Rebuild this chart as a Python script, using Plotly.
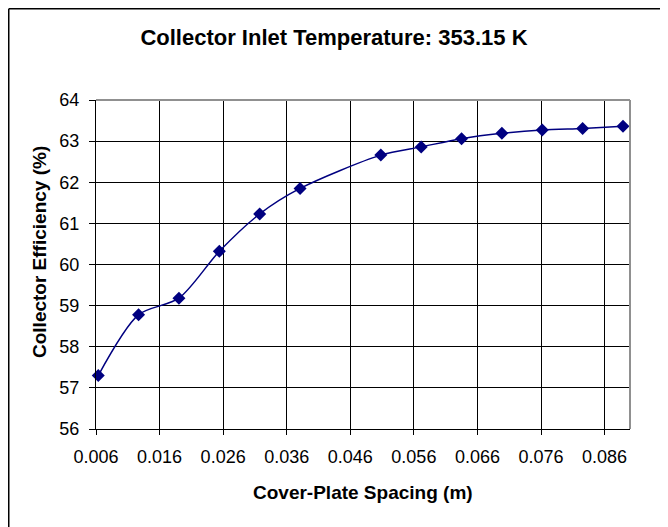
import plotly.graph_objects as go

spacing_m = [0.00635, 0.0127, 0.01905, 0.0254, 0.03175, 0.0381, 0.0508,
             0.05715, 0.0635, 0.06985, 0.0762, 0.08255, 0.0889]
efficiency_pct = [57.30, 58.78, 59.18, 60.32, 61.23, 61.85, 62.66,
                  62.86, 63.06, 63.19, 63.27, 63.31, 63.36]
x_tick_vals = [0.006, 0.016, 0.026, 0.036, 0.046, 0.056, 0.066, 0.076, 0.086]
x_tick_text = ["0.006", "0.016", "0.026", "0.036", "0.046", "0.056", "0.066", "0.076", "0.086"]
y_tick_vals = [56, 57, 58, 59, 60, 61, 62, 63, 64]

FONT = "Liberation Sans, Arial, sans-serif"
NAVY = "#000080"

# page body has an 8px margin; the figure is sized/offset to compensate
W, H = 660, 519
L, R, T, B = 88, 38, 92, 98
PW, PH = W - L - R, H - T - B

fig = go.Figure()
fig.add_trace(go.Scatter(
    x=spacing_m, y=efficiency_pct, mode="lines+markers",
    line=dict(color=NAVY, width=1.5, shape="spline", smoothing=0.8),
    marker=dict(symbol="diamond", size=10, color=NAVY),
    showlegend=False, cliponaxis=False,
))

fig.update_layout(
    width=W, height=H,
    margin=dict(l=L, r=R, t=T, b=B),
    paper_bgcolor="white", plot_bgcolor="white",
    font=dict(family=FONT, size=18, color="black"),
    title=dict(text="<b>Collector Inlet Temperature: 353.15 K</b>",
               x=326 / W, xanchor="center", y=1 - 29 / H, yanchor="middle",
               font=dict(size=22, family=FONT)),
    xaxis=dict(range=[0.006, 0.090], tickvals=x_tick_vals, ticktext=x_tick_text,
               showgrid=True, gridcolor="black", gridwidth=1,
               showline=True, linecolor="black", linewidth=1,
               ticks="outside", ticklen=5, tickcolor="black",
               tickfont=dict(size=18), zeroline=False, ticklabelstandoff=6),
    yaxis=dict(range=[56, 64], tickvals=y_tick_vals,
               showgrid=True, gridcolor="black", gridwidth=1,
               showline=True, linecolor="black", linewidth=1,
               ticks="outside", ticklen=6, tickcolor="black",
               tickfont=dict(size=18), zeroline=False, ticklabelstandoff=6),
    annotations=[
        dict(text="<b>Cover-Plate Spacing (m)</b>", xref="paper", yref="paper",
             x=0.5, y=(PH - (484 - T)) / PH, xanchor="center", yanchor="middle",
             showarrow=False, font=dict(size=19)),
        dict(text="<b>Collector Efficiency (%)</b>", xref="paper", yref="paper",
             x=(32 - L) / PW, y=(PH - (244 - T)) / PH, xanchor="center", yanchor="middle",
             textangle=-90, showarrow=False, font=dict(size=19)),
    ],
)

# grey top/right border of plot area
fig.add_shape(type="line", xref="paper", yref="paper", x0=0, x1=1, y0=1, y1=1,
              line=dict(color="#909090", width=2), layer="above")
fig.add_shape(type="line", xref="paper", yref="paper", x0=1, x1=1, y0=0, y1=1,
              line=dict(color="#909090", width=2), layer="above")
# outer chart border (top and left)
bx = (0.75 - L) / PW
by = (PH + T - 0.75) / PH
fig.add_shape(type="line", xref="paper", yref="paper", x0=bx, x1=1.3, y0=by, y1=by,
              line=dict(color="black", width=1.5))
fig.add_shape(type="line", xref="paper", yref="paper", x0=bx, x1=bx, y0=by, y1=-0.4,
              line=dict(color="black", width=1.5))

fig.write_html("out.html")
